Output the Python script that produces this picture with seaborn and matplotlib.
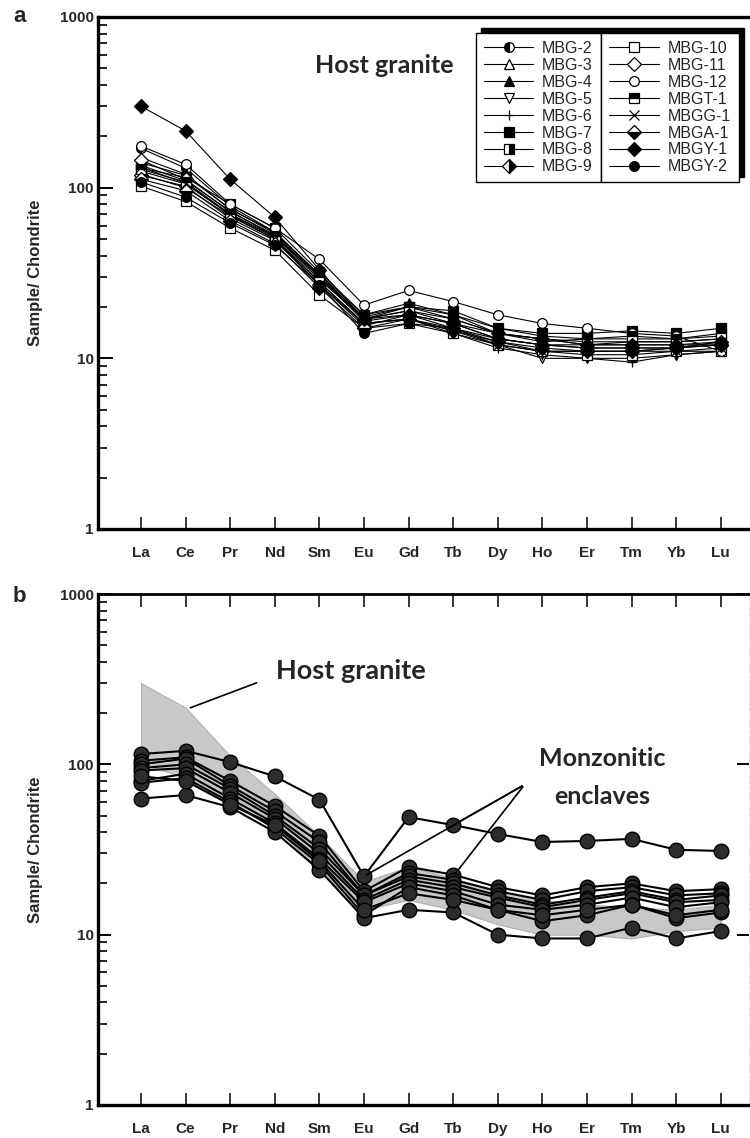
import numpy as np
import pandas as pd
import matplotlib
matplotlib.use("Agg")
import matplotlib.pyplot as plt
import seaborn as sns
from matplotlib.patches import Rectangle
from matplotlib.ticker import FixedLocator, NullFormatter

# ---------------- data ----------------
elements = ["La", "Ce", "Pr", "Nd", "Sm", "Eu", "Gd", "Tb", "Dy", "Ho", "Er", "Tm", "Yb", "Lu"]
y_ticks = [1, 10, 100, 1000]
y_tick_labels = ["1", "10", "100", "1000"]

# host granite samples (chondrite normalised)
mbg_2 = [170, 130, 78, 55, 31, 17, 20, 18, 14, 13, 12.5, 12.5, 12.5, 13]
mbg_3 = [150, 120, 75, 55, 30, 17, 19, 17, 14, 13, 12, 12, 12, 12.5]
mbg_4 = [140, 118, 75, 54, 31, 18, 21, 18, 15, 13.5, 13, 13, 13, 13.5]
mbg_5 = [120, 100, 68, 50, 28, 16, 17, 14.5, 12, 10, 10, 10, 10.5, 11]
mbg_6 = [125, 105, 70, 51, 28, 16, 17, 14, 11.5, 10.5, 10, 9.5, 10.5, 11]
mbg_7 = [130, 115, 80, 58, 32, 18, 20, 19, 15, 14, 14, 14.5, 14, 15]
mbg_8 = [135, 110, 73, 52, 29, 17, 19, 16, 13, 12, 12, 12.5, 12.5, 13]
mbg_9 = [118, 102, 66, 49, 27, 15.5, 18, 15, 12.5, 11, 11, 11, 11.5, 12]
mbg_10 = [102, 83, 58, 43, 23.5, 15, 16, 14, 12, 11, 10.5, 10.5, 11, 11]
mbg_11 = [145, 112, 72, 53, 30, 16.5, 18, 16, 13, 12, 11.5, 11.5, 11.5, 12]
mbg_12 = [175, 137, 80, 58, 38, 20.5, 25, 21.5, 18, 16, 15, 14, 13.5, 11]
mbgt_1 = [128, 108, 70, 52, 30, 17.5, 20, 17, 14, 12.5, 13, 13.5, 13, 14]
mbgg_1 = [132, 106, 69, 50, 27, 16, 17, 15, 12, 11, 11, 11, 11, 11.5]
mbga_1 = [112, 96, 64, 47, 26, 15, 17, 14.5, 12.5, 11.5, 11, 11, 11.5, 12.5]
mbgy_1 = [300, 215, 112, 67, 33, 17, 18, 16, 14, 13, 12, 12, 12, 12]
mbgy_2 = [108, 88, 62, 46, 27, 14, 16, 15, 13, 12, 11.5, 11.5, 11.5, 12.5]

host_names = ["MBG-2", "MBG-3", "MBG-4", "MBG-5", "MBG-6", "MBG-7", "MBG-8", "MBG-9",
              "MBG-10", "MBG-11", "MBG-12", "MBGT-1", "MBGG-1", "MBGA-1", "MBGY-1", "MBGY-2"]
host_values = [mbg_2, mbg_3, mbg_4, mbg_5, mbg_6, mbg_7, mbg_8, mbg_9,
               mbg_10, mbg_11, mbg_12, mbgt_1, mbgg_1, mbga_1, mbgy_1, mbgy_2]

# monzonitic enclaves
enc_1 = [115, 120, 103, 85, 62, 22, 49, 44, 39, 35, 35.5, 36.5, 31.5, 31]
enc_2 = [105, 110, 80, 57, 38, 18, 25, 22.5, 19, 17, 19, 20, 18, 18.5]
enc_3 = [100, 108, 75, 53, 35, 17, 23, 21, 18, 16, 18, 19, 17, 17.5]
enc_4 = [95, 100, 72, 50, 32, 17, 22, 20, 17, 15, 16.5, 18, 16, 17]
enc_5 = [92, 95, 68, 48, 30, 16, 21, 19, 16.5, 14.5, 16, 17.5, 15.5, 16]
enc_6 = [80, 88, 63, 45, 28, 15.5, 20, 18, 15, 14, 15, 16.5, 14.5, 15.5]
enc_7 = [78, 83, 60, 42, 26, 13, 19, 17, 14, 12, 13, 15, 12.5, 13.5]
enc_8 = [63, 66, 56, 40, 24, 12.5, 14, 13.5, 10, 9.5, 9.5, 11, 9.5, 10.5]
enc_9 = [85, 80, 58, 44, 27, 14, 17.5, 16, 14, 13, 14, 15, 13, 14]
enclave_values = [enc_1, enc_2, enc_3, enc_4, enc_5, enc_6, enc_7, enc_8, enc_9]

# ---------------- styles ----------------
host_styles = {
    "MBG-2": dict(marker="o", fillstyle="left"),
    "MBG-3": dict(marker="^", fillstyle="none"),
    "MBG-4": dict(marker="^", fillstyle="full"),
    "MBG-5": dict(marker="v", fillstyle="none"),
    "MBG-6": dict(marker="+", fillstyle="full"),
    "MBG-7": dict(marker="s", fillstyle="full"),
    "MBG-8": dict(marker="s", fillstyle="right"),
    "MBG-9": dict(marker="D", fillstyle="right"),
    "MBG-10": dict(marker="s", fillstyle="none"),
    "MBG-11": dict(marker="D", fillstyle="none"),
    "MBG-12": dict(marker="o", fillstyle="none"),
    "MBGT-1": dict(marker="s", fillstyle="top"),
    "MBGG-1": dict(marker="x", fillstyle="full"),
    "MBGA-1": dict(marker="D", fillstyle="bottom"),
    "MBGY-1": dict(marker="D", fillstyle="full"),
    "MBGY-2": dict(marker="o", fillstyle="full"),
}

sns.set_style("white")
plt.rcParams["font.family"] = ["Liberation Sans", "DejaVu Sans"]

W, H = 750, 1138
fig = plt.figure(figsize=(W / 100, H / 100), dpi=100)

def px_axes(left, top, right, bottom):
    return fig.add_axes([left / W, 1 - bottom / H, (right - left) / W, (bottom - top) / H])

x_idx = np.arange(len(elements))
XLA, DX, LEFT = 141.0, 44.6, 98.0
ANN_FONT = ["Lato", "DejaVu Sans"]

def style_axis(ax, right_px, top_ticks):
    ax.set_yscale("log")
    ax.set_ylim(1, 1000)
    ax.set_xlim(-(XLA - LEFT) / DX, (right_px - XLA) / DX)
    ax.xaxis.set_major_locator(FixedLocator(x_idx))
    ax.set_xticklabels(elements, fontweight="bold", fontsize=11,
                       family=["Liberation Sans Narrow", "Liberation Sans"])
    ax.yaxis.set_major_locator(FixedLocator(y_ticks))
    ax.set_yticklabels(y_tick_labels, fontweight="bold", fontsize=11,
                       family=["Liberation Sans Narrow", "Liberation Sans"])
    minors = [m * 10 ** d for d in range(0, 3) for m in range(2, 10)]
    ax.yaxis.set_minor_locator(FixedLocator(minors))
    ax.yaxis.set_minor_formatter(NullFormatter())
    ax.tick_params(axis="x", which="major", direction="in", length=9, width=1.1,
                   bottom=True, top=top_ticks, pad=12, color="k")
    ax.tick_params(axis="y", which="major", direction="in", length=11, width=1.4,
                   left=True, pad=3, color="k")
    ax.tick_params(axis="y", which="minor", direction="in", length=6.5, width=1.2,
                   left=True, color="k")
    ax.set_ylabel("Sample/ Chondrite", fontweight="bold", fontsize=12, labelpad=12)
    ax.grid(False)
    for s in ["left", "bottom"]:
        ax.spines[s].set_linewidth(2.4)
        ax.spines[s].set_color("k")

# ---------------- panel a ----------------
axa = px_axes(LEFT, 17, 770, 529)
style_axis(axa, 770, top_ticks=False)
axa.spines["top"].set_linewidth(2.4)
axa.spines["top"].set_color("k")
axa.spines["right"].set_visible(False)

for name, vals in zip(host_names, host_values):
    st = host_styles[name]
    fs = st["fillstyle"]
    face = "white" if fs == "none" else "black"
    fs_draw = "full" if fs == "none" else fs
    ms = 7.5 if st["marker"] == "D" else 7
    sns.lineplot(x=x_idx, y=vals, ax=axa, color="k", linewidth=0.8, sort=False,
                 marker=st["marker"], markersize=ms, fillstyle=fs_draw,
                 markerfacecolor=face, markerfacecoloralt="white",
                 markeredgecolor="k", markeredgewidth=0.9, label=name,
                 errorbar=None, zorder=3)

if axa.get_legend() is not None:
    axa.get_legend().remove()
handles, labels = axa.get_legend_handles_labels()

axa.text(5.45, 520, "Host granite", fontsize=18, fontweight="bold",
         family=ANN_FONT, ha="center", va="center")

leg_kw = dict(fontsize=11.5, frameon=True, fancybox=False, edgecolor="k",
              framealpha=1, handlelength=3.1, handletextpad=0.55,
              labelspacing=0.12, borderpad=0.5, borderaxespad=0)
lx, ly = 601 / W, 1 - 33 / H
leg1 = fig.legend(handles[:8], labels[:8], loc="upper right",
                  bbox_to_anchor=(lx, ly), **leg_kw)
leg2 = fig.legend(handles[8:], labels[8:], loc="upper left",
                  bbox_to_anchor=(lx, ly), **leg_kw)
for lg in (leg1, leg2):
    lg.get_frame().set_linewidth(1.0)
    lg.set_zorder(5)

# ---------------- panel b ----------------
axb = px_axes(LEFT, 594, 749, 1105)
style_axis(axb, 749, top_ticks=True)
axb.spines["top"].set_linewidth(2.0)
axb.spines["top"].set_color("k")
axb.spines["right"].set_linewidth(0.8)
axb.spines["right"].set_color("#e2e2e2")
axb.spines["right"].set_linestyle((0, (2, 3)))
axb.tick_params(axis="y", which="major", right=True, length=9)
axb.tick_params(axis="y", which="minor", right=False)

host_df = pd.DataFrame(np.array(host_values).T, columns=host_names)
env_hi = host_df.max(axis=1).values
env_lo = host_df.min(axis=1).values
axb.fill_between(x_idx, env_lo, env_hi, color="#c8c8c8", edgecolor="#b0b0b0",
                 linewidth=0.8, zorder=1)

for vals in enclave_values:
    sns.lineplot(x=x_idx, y=vals, ax=axb, color="k", linewidth=1.5, sort=False,
                 marker="o", markersize=10.5, markerfacecolor="#2c2c2c",
                 markeredgecolor="k", markeredgewidth=1.0, errorbar=None, zorder=3)

axb.text(4.7, 355, "Host granite", fontsize=19.5, fontweight="bold",
         family=ANN_FONT, ha="center", va="center")
axb.annotate("", xy=(1.05, 212), xytext=(2.65, 305),
             arrowprops=dict(arrowstyle="-", color="k", lw=1.2))

axb.text(10.35, 108, "Monzonitic", fontsize=18, fontweight="bold",
         family=ANN_FONT, ha="center", va="center")
axb.text(10.35, 65, "enclaves", fontsize=18, fontweight="bold",
         family=ANN_FONT, ha="center", va="center")
for tx, ty in [(5.0, 22), (7.0, 44), (7.0, 22)]:
    axb.annotate("", xy=(tx, ty), xytext=(8.6, 76),
                 arrowprops=dict(arrowstyle="-", color="k", lw=1.2))

# panel letters
fig.text(13 / W, 1 - 17 / H, "a", fontsize=16, fontweight="bold", va="center")
fig.text(13 / W, 1 - 596 / H, "b", fontsize=16, fontweight="bold", va="center")

# legend shadow (offset up-right)
fig.canvas.draw()
r = fig.canvas.get_renderer()
b1 = leg1.get_window_extent(r)
b2 = leg2.get_window_extent(r)
x0, y0 = b1.x0, min(b1.y0, b2.y0)
x1, y1 = b2.x1, max(b1.y1, b2.y1)
off = 5
shadow = Rectangle((x0 + off, y0 + off), x1 - x0, y1 - y0, transform=None,
                   facecolor="k", edgecolor="k", zorder=4)
fig.patches.append(shadow)

fig.savefig("out.png", dpi=100)
